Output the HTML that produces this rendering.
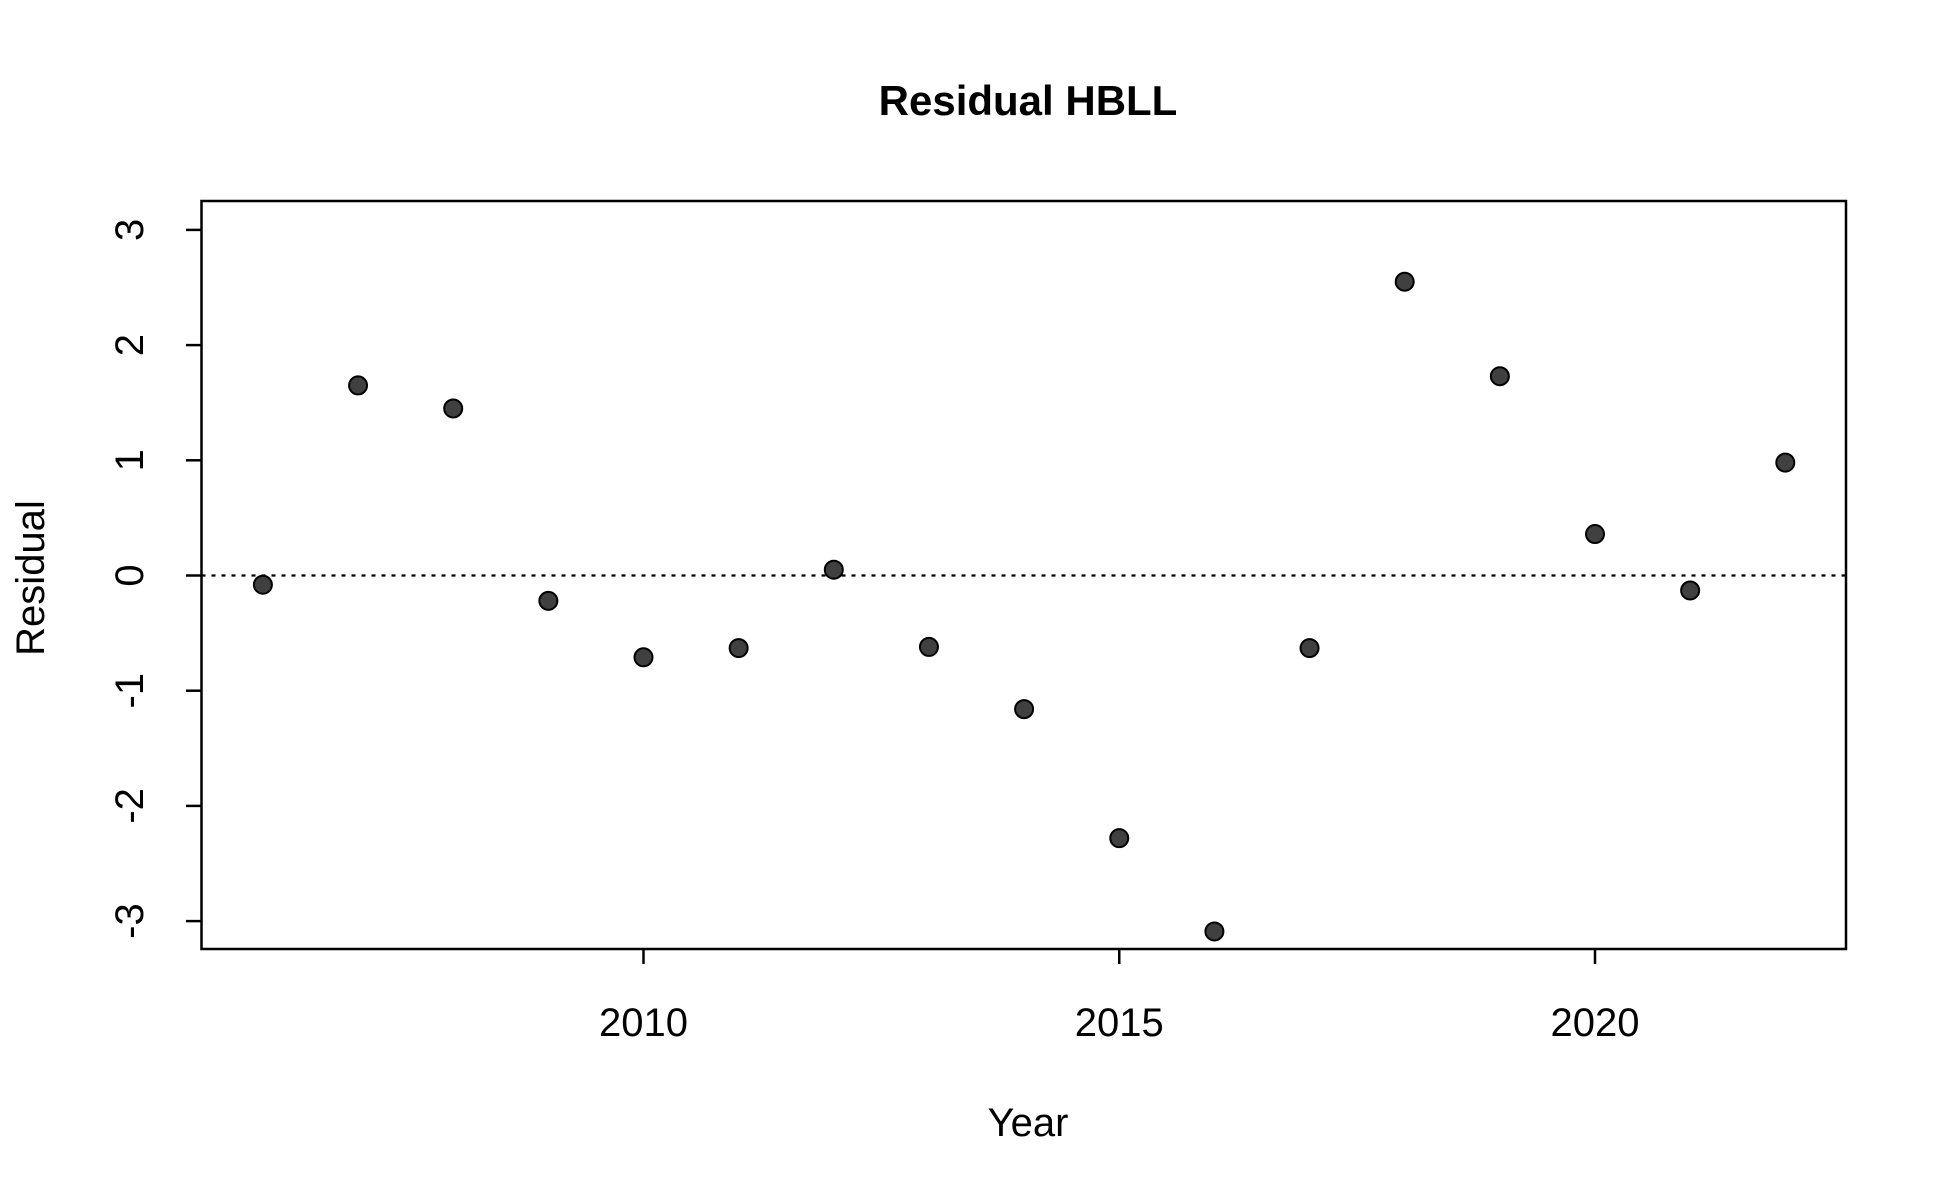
<!DOCTYPE html>
<html><head><meta charset="utf-8"><style>
html,body{margin:0;padding:0;background:#fff;}
svg{display:block;font-family:"Liberation Sans",Arial,sans-serif;}
</style></head><body>
<svg id="chart" width="1950" height="1200" viewBox="0 0 1950 1200">
<rect width="1950" height="1200" fill="#fff"/>
<text x="1028" y="115" text-anchor="middle" font-size="42" font-weight="bold">Residual HBLL</text>
<rect x="201.5" y="201" width="1644.5" height="748" fill="none" stroke="#000" stroke-width="2.5"/>
<g id="xaxis"></g>
<g id="yaxis"></g>
<line id="zero" stroke="#000" stroke-width="2.2" stroke-dasharray="4,6"/>
<g id="points"></g>
<text x="1028" y="1136" text-anchor="middle" font-size="40">Year</text>
<text transform="translate(44,578) rotate(-90)" text-anchor="middle" font-size="40">Residual</text>
</svg>
<script>
const years=[2006,2007,2008,2009,2010,2011,2012,2013,2014,2015,2016,2017,2018,2019,2020,2021,2022];
const residuals=[-0.08,1.65,1.45,-0.22,-0.71,-0.63,0.05,-0.62,-1.16,-2.28,-3.09,-0.63,2.55,1.73,0.36,-0.13,0.98];
const xTicks=[2010,2015,2020];
const yTicks=[-3,-2,-1,0,1,2,3];
const NS="http://www.w3.org/2000/svg";
function xs(v){return 643.5+(v-2010)*95.15;}
function ys(v){return 575.5-v*115.2;}
function mk(t,a){const e=document.createElementNS(NS,t);for(const k in a)e.setAttribute(k,a[k]);return e;}
const xa=document.getElementById('xaxis'),ya=document.getElementById('yaxis'),pts=document.getElementById('points');
xTicks.forEach(t=>{
 const l=mk('line',{x1:xs(t),x2:xs(t),y1:949,y2:964,stroke:'#000','stroke-width':2.5});
 
 
 xa.appendChild(l);
 const tx=mk('text',{x:xs(t),y:1036,'text-anchor':'middle','font-size':40});
 tx.textContent=t;
 
 
 xa.appendChild(tx);
});
yTicks.forEach(t=>{
 const l=mk('line',{x1:186,x2:201.5,y1:ys(t),y2:ys(t),stroke:'#000','stroke-width':2.5});
 
 
 ya.appendChild(l);
 const tx=mk('text',{transform:'translate(143,'+ys(t)+') rotate(-90)','text-anchor':'middle','font-size':40});
 tx.textContent=t<0?'-'+Math.abs(t):t;
 
 
 ya.appendChild(tx);
});
const z=document.getElementById('zero');
z.setAttribute('x1',201.5);z.setAttribute('x2',1846);z.setAttribute('y1',ys(0));z.setAttribute('y2',ys(0));
years.forEach((y,i)=>{
 const c=mk('circle',{cx:xs(y),cy:ys(residuals[i]),r:9,fill:'#404040',stroke:'#000','stroke-width':2});
 
 
 pts.appendChild(c);
});
</script>
</body></html>
